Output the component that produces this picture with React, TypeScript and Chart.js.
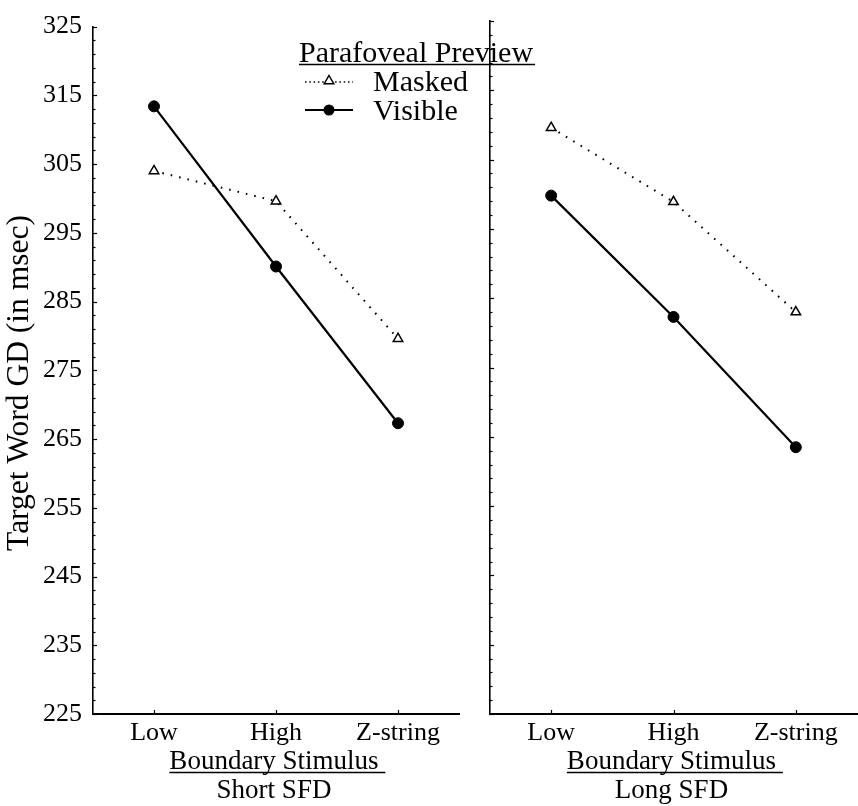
import React, { useEffect, useRef } from "react";
import { Chart, registerables } from "chart.js";
Chart.register(...registerables);

// ---- data ----
const categories = ["Low", "High", "Z-string"];
const shortMasked = [304.0, 299.6, 279.6];
const shortVisible = [313.4, 290.1, 267.3];
const longMasked = [309.6, 298.9, 283.0];
const longVisible = [299.8, 282.3, 263.5];
const yMin = 225;
const yMax = 325;
const yStep = 10;
const yMinorStep = 2;
const panelLabels = ["Short SFD", "Long SFD"];
const xTitle = "Boundary Stimulus";
const yTitle = "Target Word GD (in msec)";
const legendTitle = "Parafoveal Preview";
const seriesNames = ["Masked", "Visible"];

const FONT = '"Liberation Serif", "Times New Roman", Times, serif';
const W = 858;
const H = 806;

const tickPlugin = {
  id: "innerTicks",
  afterDraw(chart: any) {
    const ctx = chart.ctx;
    const ys = chart.scales.y;
    const xs = chart.scales.x;
    const area = chart.chartArea;
    ctx.save();
    ctx.strokeStyle = "#000";
    ctx.lineWidth = 1.2;
    for (let v = yMin; v <= yMax; v += yMinorStep) {
      const y = Math.round(ys.getPixelForValue(v)) + 0.5;
      const len = (v - yMin) % yStep === 0 ? 4 : 2.5;
      ctx.beginPath();
      ctx.moveTo(area.left, y);
      ctx.lineTo(area.left + len, y);
      ctx.stroke();
    }
    for (let i = 0; i < categories.length; i++) {
      const x = Math.round(xs.getPixelForValue(i)) + 0.5;
      ctx.beginPath();
      ctx.moveTo(x, area.bottom);
      ctx.lineTo(x, area.bottom - 4);
      ctx.stroke();
    }
    ctx.restore();
  },
};

function drawUnderlined(ctx: any, text: string, cx: number, baseline: number, extra: number) {
  const w = ctx.measureText(text).width;
  const left = cx - w / 2;
  ctx.textAlign = "left";
  ctx.fillText(text, left, baseline);
  ctx.beginPath();
  ctx.moveTo(left, baseline + 3.5);
  ctx.lineTo(left + w + extra, baseline + 3.5);
  ctx.stroke();
}

function makeDecor(panelIndex: number) {
  return {
    id: "decor" + panelIndex,
    afterDraw(chart: any) {
      const ctx = chart.ctx;
      const area = chart.chartArea;
      const cx = (area.left + area.right) / 2 - 2;
      ctx.save();
      ctx.fillStyle = "#000";
      ctx.strokeStyle = "#000";
      ctx.lineWidth = 1.3;
      ctx.textBaseline = "alphabetic";
      ctx.font = `27px ${FONT}`;
      drawUnderlined(ctx, xTitle, cx, 769, ctx.measureText(" ").width);
      ctx.textAlign = "center";
      ctx.fillText(panelLabels[panelIndex], cx, 798);

      if (panelIndex === 0) {
        // y title
        ctx.save();
        ctx.font = `31.5px ${FONT}`;
        ctx.translate(28, 383);
        ctx.rotate(-Math.PI / 2);
        ctx.textAlign = "center";
        ctx.fillText(yTitle, 0, 0);
        ctx.restore();

        // legend
        ctx.font = `30px ${FONT}`;
        ctx.textAlign = "left";
        const tw = ctx.measureText(legendTitle).width;
        ctx.fillText(legendTitle, 299, 62);
        ctx.lineWidth = 1.3;
        ctx.beginPath();
        ctx.moveTo(299, 64.5);
        ctx.lineTo(299 + tw + 2, 64.5);
        ctx.stroke();

        // masked sample
        ctx.save();
        ctx.lineWidth = 1.4;
        ctx.setLineDash([1.5, 2.8]);
        ctx.beginPath();
        ctx.moveTo(305, 82);
        ctx.lineTo(353, 82);
        ctx.stroke();
        ctx.restore();
        const r = 5.5;
        ctx.beginPath();
        ctx.moveTo(329, 81 - r);
        ctx.lineTo(329 + r * 0.866, 81 + r * 0.5);
        ctx.lineTo(329 - r * 0.866, 81 + r * 0.5);
        ctx.closePath();
        ctx.fillStyle = "#fff";
        ctx.fill();
        ctx.lineWidth = 1.5;
        ctx.stroke();
        ctx.fillStyle = "#000";
        ctx.fillText(seriesNames[0], 373, 91);

        // visible sample
        ctx.lineWidth = 2.2;
        ctx.beginPath();
        ctx.moveTo(305, 110);
        ctx.lineTo(353, 110);
        ctx.stroke();
        ctx.beginPath();
        ctx.arc(329, 110, 5.5, 0, Math.PI * 2);
        ctx.fill();
        ctx.fillText(seriesNames[1], 373, 120);
      }
      ctx.restore();
    },
  };
}

function makeConfig(masked: number[], visible: number[], panelIndex: number): any {
  const isLeft = panelIndex === 0;
  return {
    type: "line",
    data: {
      labels: categories,
      datasets: [
        {
          label: seriesNames[0],
          data: masked,
          borderColor: "#000",
          borderWidth: 2,
          borderDash: [1.6, 7],
          tension: 0,
          fill: false,
          pointStyle: "triangle",
          pointRadius: 5.5,
          pointBackgroundColor: "#fff",
          pointBorderColor: "#000",
          pointBorderWidth: 1.5,
        },
        {
          label: seriesNames[1],
          data: visible,
          borderColor: "#000",
          borderWidth: 2.2,
          tension: 0,
          fill: false,
          pointStyle: "circle",
          pointRadius: 5.5,
          pointBackgroundColor: "#000",
          pointBorderColor: "#000",
          pointBorderWidth: 1,
        },
      ],
    },
    options: {
      responsive: false,
      animation: false,
      devicePixelRatio: 1,
      layout: {
        autoPadding: false,
        padding: isLeft
          ? { left: 0, right: W - 459, top: 22, bottom: 0 }
          : { left: 0, right: 1, top: 21, bottom: 0 },
      },
      plugins: {
        legend: { display: false },
        tooltip: { enabled: false },
      },
      scales: {
        x: {
          type: "category",
          offset: true,
          grid: { display: false, drawTicks: false },
          border: { display: true, color: "#000", width: 2 },
          ticks: {
            color: "#000",
            font: { family: FONT, size: 26 },
            padding: 4,
            maxRotation: 0,
            autoSkip: false,
          },
          afterFit: (s: any) => {
            s.height = 92;
          },
        },
        y: {
          min: yMin,
          max: yMax,
          grid: { display: false, drawTicks: false },
          border: { display: true, color: "#000", width: 1.6 },
          ticks: {
            display: isLeft,
            stepSize: yStep,
            color: "#000",
            font: { family: FONT, size: 26 },
            padding: 11,
          },
          afterFit: (s: any) => {
            s.width = isLeft ? 93 : 490;
          },
        },
      },
    },
    plugins: [tickPlugin, makeDecor(panelIndex)],
  };
}

export default function App() {
  const leftRef = useRef<HTMLCanvasElement>(null);
  const rightRef = useRef<HTMLCanvasElement>(null);
  useEffect(() => {
    const c1 = new Chart(leftRef.current as HTMLCanvasElement, makeConfig(shortMasked, shortVisible, 0));
    const c2 = new Chart(rightRef.current as HTMLCanvasElement, makeConfig(longMasked, longVisible, 1));
    return () => {
      c1.destroy();
      c2.destroy();
    };
  }, []);
  return (
    <div style={{ position: "absolute", left: 0, top: 0, width: W, height: H, background: "#fff" }}>
      <canvas ref={leftRef} width={W} height={H} style={{ position: "absolute", left: 0, top: 0 }} />
      <canvas ref={rightRef} width={W} height={H} style={{ position: "absolute", left: 0, top: 0 }} />
    </div>
  );
}
